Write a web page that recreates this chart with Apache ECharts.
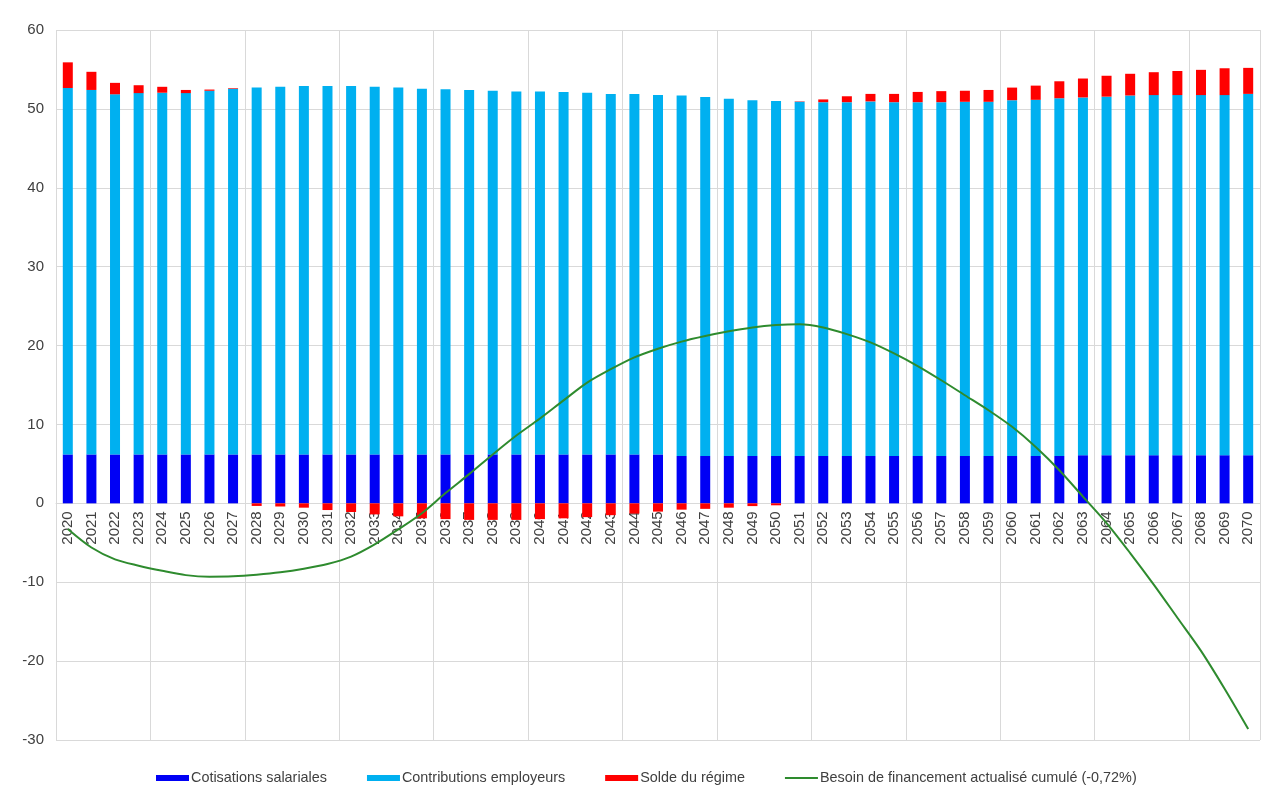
<!DOCTYPE html>
<html>
<head>
<meta charset="utf-8">
<script src="https://cdn.jsdelivr.net/npm/echarts@6/dist/echarts.min.js"></script>
<style>
html,body{margin:0;padding:0;background:#fff;}
#chart{width:1266px;height:790px;}
</style>
</head>
<body>
<div id="chart"></div>
<script>
var years = ['2020','2021','2022','2023','2024','2025','2026','2027','2028','2029','2030','2031','2032','2033','2034','2035','2036','2037','2038','2039','2040','2041','2042','2043','2044','2045','2046','2047','2048','2049','2050','2051','2052','2053','2054','2055','2056','2057','2058','2059','2060','2061','2062','2063','2064','2065','2066','2067','2068','2069','2070'];

var cotisationsSalariales = [6.2,6.2,6.2,6.2,6.2,6.2,6.2,6.2,6.2,6.2,6.2,6.2,6.2,6.2,6.2,6.2,6.2,6.2,6.2,6.2,6.2,6.2,6.2,6.2,6.2,6.2,
  6.0,6.0,6.0,6.0,6.0,6.0,6.0,6.0,6.0,6.0,6.0,6.0,6.0,6.0,6.0,6.0,6.0,
  6.1,6.1,6.1,6.1,6.1,6.1,6.1,6.1];

var contributionsEmployeurs = [46.45,46.2,45.65,45.8,45.85,45.8,46.1,46.35,46.5,46.6,46.7,46.7,46.7,46.6,46.5,46.35,46.3,46.2,46.1,46.0,46.0,45.95,45.85,45.7,45.7,45.55,
  45.7,45.5,45.3,45.1,45.0,44.9,44.85,44.85,44.95,44.85,44.85,44.85,44.9,44.9,45.1,45.15,45.35,
  45.35,45.45,45.6,45.65,45.65,45.65,45.65,45.8];

var soldeRegime = [3.25,2.3,1.45,1.0,0.75,0.4,0.15,0.08,-0.33,-0.4,-0.55,-0.85,-1.1,-1.4,-1.65,-1.9,-2.0,-2.1,-2.1,-2.1,-2.0,-1.9,-1.75,-1.5,-1.3,-1.05,-0.8,-0.7,-0.55,-0.35,-0.25,0.05,0.35,0.75,0.95,1.05,1.3,1.4,1.4,1.5,1.6,1.8,2.15,2.4,2.65,2.75,2.9,3.05,3.2,3.4,3.3];

var besoinFinancement = [-3.25,-5.6,-7.1,-7.9,-8.55,-9.1,-9.3,-9.25,-9.05,-8.75,-8.3,-7.7,-6.75,-5.2,-3.3,
  -1.25,1.3,3.7,6.2,8.6,10.75,13.05,15.3,17.0,18.5,19.6,20.5,21.2,21.8,22.3,22.6,
  22.7,22.3,21.45,20.4,19.0,17.4,15.6,13.7,11.8,9.7,7.15,4.2,0.85,-2.5,-6.3,-10.3,-14.5,-18.7,-23.5,-28.6];

var yTicks = {min: -30, max: 60, interval: 10};

var W = 1266, H = 790;
var gridBox = {left: 56, right: 6, top: 30, bottom: 50};
var gridHeight = H - gridBox.top - gridBox.bottom;
// move the category axis up to the zero line of the value axis
var xAxisOffset = -gridHeight * (0 - yTicks.min) / (yTicks.max - yTicks.min);

var chart = echarts.init(document.getElementById('chart'), null, {renderer: 'canvas'});
var font = '"Liberation Sans", Arial, sans-serif';
chart.setOption({
  animation: false,
  backgroundColor: '#ffffff',
  textStyle: {fontFamily: font},
  grid: {left: gridBox.left, right: gridBox.right, top: gridBox.top, bottom: gridBox.bottom, containLabel: false},
  legend: {
    left: 151,
    top: 766,
    itemWidth: 33,
    itemHeight: 6,
    itemGap: 40,
    symbolKeepAspect: true,
    textStyle: {fontFamily: font, fontSize: 14.4, color: '#404040', padding: [0,0,0,-3]},
    data: [
      {name: 'Cotisations salariales', icon: 'rect'},
      {name: 'Contributions employeurs', icon: 'rect'},
      {name: 'Solde du régime', icon: 'rect'},
      {name: 'Besoin de financement actualisé cumulé (-0,72%)', icon: 'path://M0,0 L33,0 L33,2 L0,2 Z'}
    ]
  },
  xAxis: {
    type: 'category',
    data: years,
    boundaryGap: true,
    position: 'bottom',
    offset: xAxisOffset,
    axisLine: {onZero: false, lineStyle: {color: '#d9d9d9'}},
    axisTick: {show: false},
    axisLabel: {interval: 0, rotate: 90, margin: 8, fontSize: 15, color: '#404040', fontFamily: font},
    splitLine: {
      show: true,
      interval: function (index) { return index % 4 === 0 && index < years.length - 1; },
      lineStyle: {color: '#d9d9d9', width: 1}
    }
  },
  yAxis: {
    type: 'value',
    min: yTicks.min,
    max: yTicks.max,
    interval: yTicks.interval,
    axisLine: {show: false},
    axisTick: {show: false},
    axisLabel: {fontSize: 15, color: '#404040', margin: 12, fontFamily: font},
    splitLine: {lineStyle: {color: '#d9d9d9', width: 1}}
  },
  series: [
    {name: 'Cotisations salariales', type: 'bar', stack: 'total', barWidth: 10,
     itemStyle: {color: '#0000F5'}, data: cotisationsSalariales},
    {name: 'Contributions employeurs', type: 'bar', stack: 'total', barWidth: 10,
     itemStyle: {color: '#00B0F0'}, data: contributionsEmployeurs},
    {name: 'Solde du régime', type: 'bar', stack: 'total', barWidth: 10,
     itemStyle: {color: '#FF0000'}, data: soldeRegime},
    {name: 'Besoin de financement actualisé cumulé (-0,72%)', type: 'line', symbol: 'none',
     smooth: 0.3, z: 5,
     lineStyle: {color: '#2E8B2E', width: 2}, itemStyle: {color: '#2E8B2E'},
     data: besoinFinancement}
  ]
});
</script>
</body>
</html>
